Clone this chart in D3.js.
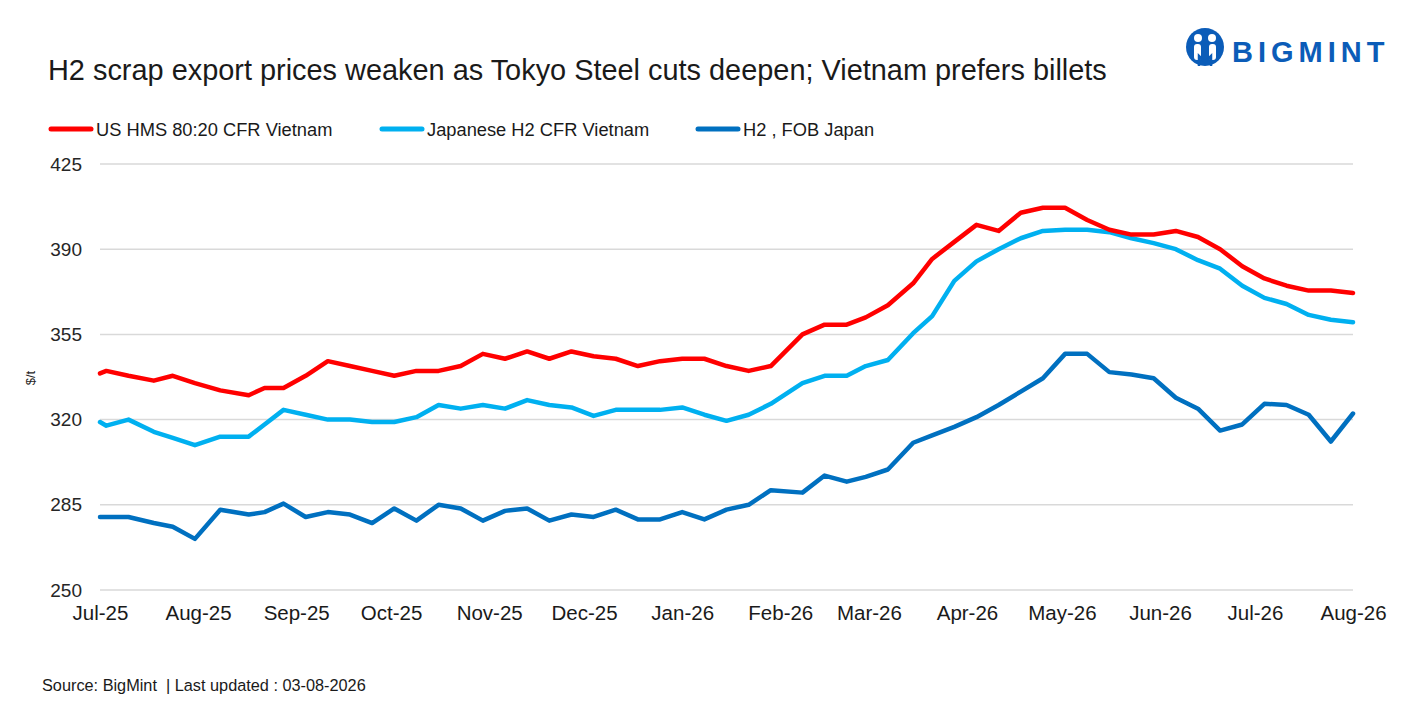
<!DOCTYPE html>
<meta charset="utf-8">
<script src="https://d3js.org/d3.v7.min.js"></script>
<style>
  body { margin: 0; background: #fff; }
  text { font-family: "Liberation Sans", Arial, sans-serif; }
</style>

<svg id="chart" width="1417" height="708"></svg>

<script>
// weekly assessment dates
const dates = [
  "2025-07-01","2025-07-03","2025-07-10","2025-07-18","2025-07-24","2025-07-31",
  "2025-08-08","2025-08-17","2025-08-22","2025-08-28","2025-09-04","2025-09-11",
  "2025-09-18","2025-09-25","2025-10-02","2025-10-09","2025-10-16","2025-10-23",
  "2025-10-30","2025-11-06","2025-11-13","2025-11-20","2025-11-27","2025-12-04",
  "2025-12-11","2025-12-18","2025-12-25","2026-01-01","2026-01-08","2026-01-15",
  "2026-01-22","2026-01-29","2026-02-08","2026-02-15","2026-02-22","2026-02-28",
  "2026-03-07","2026-03-15","2026-03-21","2026-03-28","2026-04-04","2026-04-11",
  "2026-04-18","2026-04-25","2026-05-02","2026-05-09","2026-05-16","2026-05-23",
  "2026-05-30","2026-06-06","2026-06-13","2026-06-20","2026-06-27","2026-07-04",
  "2026-07-11","2026-07-18","2026-07-25","2026-08-01"
];

const usHms = [
  339, 340, 338, 336, 338, 335,
  332, 330, 333, 333, 338, 344,
  342, 340, 338, 340, 340, 342,
  347, 345, 348, 345, 348, 346,
  345, 342, 344, 345, 345, 342,
  340, 342, 355, 359, 359, 362,
  367, 376, 386, 393, 400, 397.5,
  405, 407, 407, 402, 398, 396,
  396, 397.5, 395, 390, 383, 378,
  375, 373, 373, 372
];

const japH2Cfr = [
  319, 317.5, 320, 315, 312.5, 309.5,
  313, 313, 318, 324, 322, 320,
  320, 319, 319, 321, 326, 324.5,
  326, 324.5, 328, 326, 325, 321.5,
  324, 324, 324, 325, 322, 319.5,
  322, 326.5, 335, 338, 338, 342,
  344.5, 355.5, 362.5, 377, 385, 390,
  394.5, 397.5, 398, 398, 397, 394.5,
  392.5, 390, 385.5, 382, 375, 370,
  367.5, 363, 361, 360
];

const h2Fob = [
  280, 280, 280, 277.5, 276, 271,
  283, 281, 282, 285.5, 280, 282,
  281, 277.5, 283.5, 278.5, 285, 283.5,
  278.5, 282.5, 283.5, 278.5, 281, 280,
  283, 279, 279, 282, 279, 283,
  285, 291, 290, 297, 294.5, 296.5,
  299.5, 310.5, 313.5, 317, 321, 326,
  331.5, 337, 347, 347, 339.5, 338.5,
  337, 329, 324.5, 315.5, 318, 326.5,
  326, 322, 311, 322.5
];

const seriesNames = ["US HMS 80:20 CFR Vietnam", "Japanese H2 CFR Vietnam", "H2 , FOB Japan"];
const seriesColors = ["#ff0000", "#00b0f0", "#0070c0"];
const yTicks = [250, 285, 320, 355, 390, 425];

const svg = d3.select("#chart");
const parse = d3.timeParse("%Y-%m-%d");
const when = dates.map(parse);

const x = d3.scaleTime()
  .domain([new Date(2025, 6, 1), new Date(2026, 7, 1)])
  .range([100, 1353]);
const y = d3.scaleLinear().domain([250, 425]).range([590, 164]);

// title
svg.append("text")
  .attr("x", 48).attr("y", 80)
  .attr("font-size", 28.9).attr("fill", "#1a1a1a")
  .text("H2 scrap export prices weaken as Tokyo Steel cuts deepen; Vietnam prefers billets");

// logo
const logo = svg.append("g");
logo.append("circle").attr("cx", 1205).attr("cy", 47).attr("r", 19).attr("fill", "#0b5cb8");
logo.append("circle").attr("cx", 1198).attr("cy", 38).attr("r", 4).attr("fill", "#fff");
logo.append("circle").attr("cx", 1212).attr("cy", 38).attr("r", 4).attr("fill", "#fff");
logo.append("rect").attr("x", 1194).attr("y", 44).attr("width", 7).attr("height", 16).attr("rx", 3).attr("fill", "#fff");
logo.append("rect").attr("x", 1209).attr("y", 44).attr("width", 7).attr("height", 16).attr("rx", 3).attr("fill", "#fff");
logo.append("path").attr("d", "M1199,66 L1199,56 L1205,62 L1211,56 L1211,66")
  .attr("fill", "none").attr("stroke", "#0b5cb8").attr("stroke-width", 2.5);
logo.append("text")
  .attr("x", 1232).attr("y", 62)
  .attr("font-size", 29).attr("font-weight", "bold")
  .attr("letter-spacing", 5)
  .attr("fill", "#0b5cb8")
  .text("BIGMINT");

// legend
const legendX = [49, 380, 696];
const legend = svg.append("g").selectAll("g")
  .data(seriesNames)
  .join("g")
  .attr("transform", (d, i) => `translate(${legendX[i]},129)`);
legend.append("line")
  .attr("x1", 2).attr("x2", 42)
  .attr("stroke", (d, i) => seriesColors[i])
  .attr("stroke-width", 5).attr("stroke-linecap", "round");
legend.append("text")
  .attr("x", 47).attr("y", 6.5)
  .attr("font-size", 18.3).attr("fill", "#1a1a1a")
  .text(d => d);

// gridlines
svg.append("g")
  .selectAll("line")
  .data(yTicks)
  .join("line")
  .attr("x1", 100).attr("x2", 1353)
  .attr("y1", d => y(d)).attr("y2", d => y(d))
  .attr("stroke", "#d9d9d9").attr("stroke-width", 1.5);

// y axis
const yAxis = svg.append("g")
  .attr("transform", "translate(82,0)")
  .call(d3.axisLeft(y).tickValues(yTicks).tickSize(0).tickPadding(0));
yAxis.select(".domain").remove();
yAxis.selectAll("text")
  .attr("font-size", 19).attr("fill", "#262626")
  .style("font-family", "Liberation Sans, Arial, sans-serif");

svg.append("text")
  .attr("transform", "translate(35,378) rotate(-90)")
  .attr("text-anchor", "middle")
  .attr("font-size", 13).attr("fill", "#262626")
  .text("$/t");

// x axis
const xAxis = svg.append("g")
  .attr("transform", "translate(0,605)")
  .call(d3.axisBottom(x).ticks(d3.timeMonth.every(1)).tickFormat(d3.timeFormat("%b-%y")).tickSize(0).tickPadding(0));
xAxis.select(".domain").remove();
xAxis.selectAll("text")
  .attr("font-size", 20.5).attr("fill", "#1a1a1a")
  .style("font-family", "Liberation Sans, Arial, sans-serif");

// lines
const line = d3.line()
  .x((d, i) => x(when[i]))
  .y(d => y(d));

svg.append("g")
  .selectAll("path")
  .data([h2Fob, japH2Cfr, usHms])
  .join("path")
  .attr("d", line)
  .attr("fill", "none")
  .attr("stroke", (d, i) => [seriesColors[2], seriesColors[1], seriesColors[0]][i])
  .attr("stroke-width", 4.5)
  .attr("stroke-linejoin", "round")
  .attr("stroke-linecap", "round");

// source
svg.append("text")
  .attr("x", 42).attr("y", 691)
  .attr("font-size", 16.3).attr("fill", "#1a1a1a")
  .style("white-space", "pre")
  .text("Source: BigMint  | Last updated : 03-08-2026");
</script>
